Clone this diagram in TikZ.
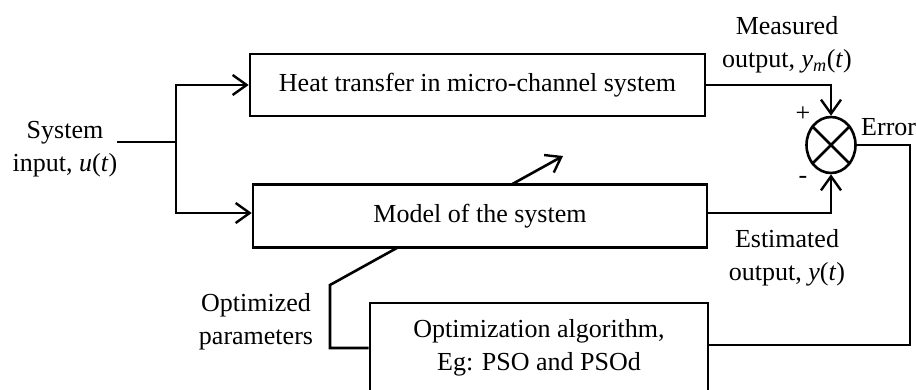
\documentclass[tikz,border=0pt]{standalone}
\usepackage{fontspec}
\setmainfont{Liberation Serif}
\usetikzlibrary{arrows.meta,shapes.geometric}
\begin{document}
\begin{tikzpicture}[x=1pt,y=-1pt,
  font=\fontsize{26}{33}\selectfont,
  wire/.style={line width=2.6pt},
  arr/.style={wire,-{Straight Barb[length=14pt,width=20pt,line width=2.4pt]}},
  block/.style={draw,line width=2.6pt,fill=white,inner sep=0pt,align=center},
  lbl/.style={align=center,inner sep=0pt}]
\path[use as bounding box] (0,0) rectangle (916,390);
\clip (0,0) rectangle (916,390);

% plant and optimiser blocks
\node[block, minimum width=455pt, minimum height=62pt] (plant) at (477.5,85) {Heat transfer in micro-channel system};
\node[block, minimum width=338pt, minimum height=90pt] (opt) at (539,348) {Optimization algorithm,\\Eg: PSO and PSOd};

% parameter update arrow, passing behind the model block
\coordinate (pk) at (330,285);
\coordinate (ptip) at (563,156);
\draw[arr] (opt.west) -| (pk) -- (ptip);

\node[block, minimum width=454pt, minimum height=63pt] (model) at (480,216) {Model of the system};

% summing junction
\node[draw, ellipse, line width=2.6pt, minimum width=49pt, minimum height=56pt, inner sep=0pt] (sum) at (831,145) {};
\draw[wire] (sum.45) -- (sum.225) (sum.135) -- (sum.315);

% input
\node[lbl] (sysin) at (65,149) {System\\input, \textit{u}(\textit{t})};
\coordinate (split) at (176,142);
\draw[wire] (sysin.east |- split) -- (split);
\draw[arr] (split) |- (plant.west);
\draw[arr] (split) |- ([yshift=3pt]model.west);

% outputs to the junction
\draw[arr] (plant.east) -| (sum.north);
\draw[arr] ([yshift=3pt]model.east) -| (sum.south);

% error feedback
\coordinate (eback) at (910,345);
\draw[wire] (sum.east) -| (eback) -- (opt.east |- eback);

% labels
\node[lbl] (meas) at (787,45) {Measured\\output, \textit{y}\textsubscript{\textit{m}}(\textit{t})};
\node[lbl] (est) at (787,258) {Estimated\\output, \textit{y}(\textit{t})};
\node[lbl] (optp) at (256,322) {Optimized\\parameters};
\node[lbl] (plus) at (803,114) {+};
\node[lbl] (minus) at (803,180) {-};
\node[anchor=west, inner sep=0pt] (err) at (861,127) {Error};
\end{tikzpicture}
\end{document}
